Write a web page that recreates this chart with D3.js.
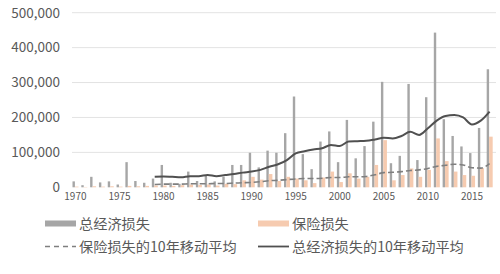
<!DOCTYPE html>
<html><head><meta charset="utf-8">
<script src="https://cdn.jsdelivr.net/npm/d3@7"></script>
<style>
html,body{margin:0;padding:0;background:#fff;}
svg{display:block;}
text{font-family:"Noto Sans CJK SC","Noto Sans",sans-serif;fill:#595959;}
</style></head>
<body>
<svg id="chart" width="500" height="274"></svg>
<script>
const years = [1970,1971,1972,1973,1974,1975,1976,1977,1978,1979,1980,1981,1982,1983,1984,1985,1986,1987,1988,1989,1990,1991,1992,1993,1994,1995,1996,1997,1998,1999,2000,2001,2002,2003,2004,2005,2006,2007,2008,2009,2010,2011,2012,2013,2014,2015,2016,2017];
const totalLoss = [17000,6000,30000,14000,17000,8000,72000,18000,13000,25000,64000,13000,10000,45000,18000,35000,17000,30000,64000,64000,99000,57000,105000,99000,155000,260000,95000,52000,131000,160000,72000,193000,83000,118000,188000,302000,69000,90000,296000,78000,258000,443000,195000,147000,117000,98000,170000,338000];
const insuredLoss = [2000,1000,3000,2000,3000,2000,4000,3000,4000,5000,5000,4000,6000,8000,7000,8000,5000,10000,9000,20000,30000,22000,38000,18000,30000,25000,20000,12000,28000,45000,15000,40000,25000,30000,64000,135000,20000,35000,54000,30000,50000,140000,75000,45000,35000,33000,55000,145000];
const totalMA10 = [null,null,null,null,null,null,null,null,null,30000,31000,30000,29000,32000,32000,35000,32000,35000,38000,42000,45000,50000,59000,66000,78000,97000,103000,108000,112000,121000,118000,131000,132000,133000,137000,142000,140000,147000,159000,150000,169000,191000,204000,207000,200000,180000,191000,217000];
const insuredMA10 = [null,null,null,null,null,null,null,null,null,8000,9000,9000,9000,10000,10000,10000,11000,11000,12000,13000,14000,16000,19000,20000,22000,24000,25000,25000,26000,28000,28000,30000,30000,31000,36000,42000,43000,45000,48000,50000,54000,60000,63000,66000,64000,56000,55000,68000];
const yTicks = [0,100000,200000,300000,400000,500000];
const xTickYears = [1970,1975,1980,1985,1990,1995,2000,2005,2010,2015];
const legendLabels = ["总经济损失","保险损失","保险损失的10年移动平均","总经济损失的10年移动平均"];

const svg = d3.select("#chart");
const x = d3.scaleBand().domain(years).range([71,494]);
const y = d3.scaleLinear().domain([0,500000]).range([187.3,12.7]);
const bw = x.bandwidth();
const fmt = d3.format(",");

// gridlines
svg.append("g").selectAll("line").data(yTicks.filter(d=>d>0)).join("line")
  .attr("x1",72).attr("x2",496).attr("y1",d=>y(d)).attr("y2",d=>y(d))
  .attr("stroke","#e3e3e3").attr("stroke-width",1);

// y axis
const yAxis = d3.axisLeft(y).tickValues(yTicks).tickFormat(d=>fmt(d)).tickSize(0).tickPadding(0);
const gy = svg.append("g").attr("transform","translate(60,0)").call(yAxis);
gy.select(".domain").remove();
gy.selectAll("text").attr("font-size","13.5px").attr("fill","#595959")
  .style("font-family",'"Noto Sans CJK SC",sans-serif');

// x axis
const xAxis = d3.axisBottom(x).tickValues(xTickYears).tickSize(0).tickPadding(0);
const gx = svg.append("g").attr("transform","translate(0,193)").call(xAxis);
gx.select(".domain").remove();
gx.selectAll("text").attr("font-size","10px").attr("fill","#595959")
  .style("font-family",'"Noto Sans CJK SC",sans-serif');

// bars
svg.append("g").selectAll("rect").data(years).join("rect")
  .attr("x",d=>x(d)+1.5).attr("width",2.4)
  .attr("y",(d,i)=>y(totalLoss[i])).attr("height",(d,i)=>y(0)-y(totalLoss[i]))
  .attr("fill","#a6a6a6");
svg.append("g").selectAll("rect").data(years).join("rect")
  .attr("x",d=>x(d)+3.9).attr("width",3.6)
  .attr("y",(d,i)=>y(insuredLoss[i])).attr("height",(d,i)=>y(0)-y(insuredLoss[i]))
  .attr("fill","#f6cbb0");

// lines
const cx = d=>x(d)+bw/2;
const lineGen = arr => d3.line().defined((d,i)=>arr[i]!==null)
  .x(d=>cx(d)).y((d,i)=>y(arr[i])).curve(d3.curveMonotoneX)(years);
svg.append("path").attr("d",lineGen(insuredMA10)).attr("fill","none")
  .attr("stroke","#7f7f7f").attr("stroke-width",1.6).attr("stroke-dasharray","6,3");
svg.append("path").attr("d",lineGen(totalMA10)).attr("fill","none")
  .attr("stroke","#505050").attr("stroke-width",2);

// legend
const lg = svg.append("g");
const items = [
  {x:45, y:223.5, type:"bar", color:"#a6a6a6", label:legendLabels[0]},
  {x:258, y:223.5, type:"bar", color:"#f6cbb0", label:legendLabels[1]},
  {x:45, y:246.5, type:"dash", color:"#7f7f7f", label:legendLabels[2]},
  {x:258, y:246.5, type:"line", color:"#505050", label:legendLabels[3]}
];
items.forEach(it=>{
  if(it.type==="bar"){
    lg.append("rect").attr("x",it.x).attr("y",it.y-3).attr("width",31).attr("height",6).attr("fill",it.color);
  } else {
    lg.append("line").attr("x1",it.x).attr("x2",it.x+31).attr("y1",it.y).attr("y2",it.y)
      .attr("stroke",it.color).attr("stroke-width",it.type==="dash"?1.6:1.8)
      .attr("stroke-dasharray",it.type==="dash"?"5,4":null);
  }
  lg.append("text").attr("x",it.x+34).attr("y",it.y).attr("dy","0.36em")
    .attr("font-size","14.2px").text(it.label);
});
</script>
</body></html>
